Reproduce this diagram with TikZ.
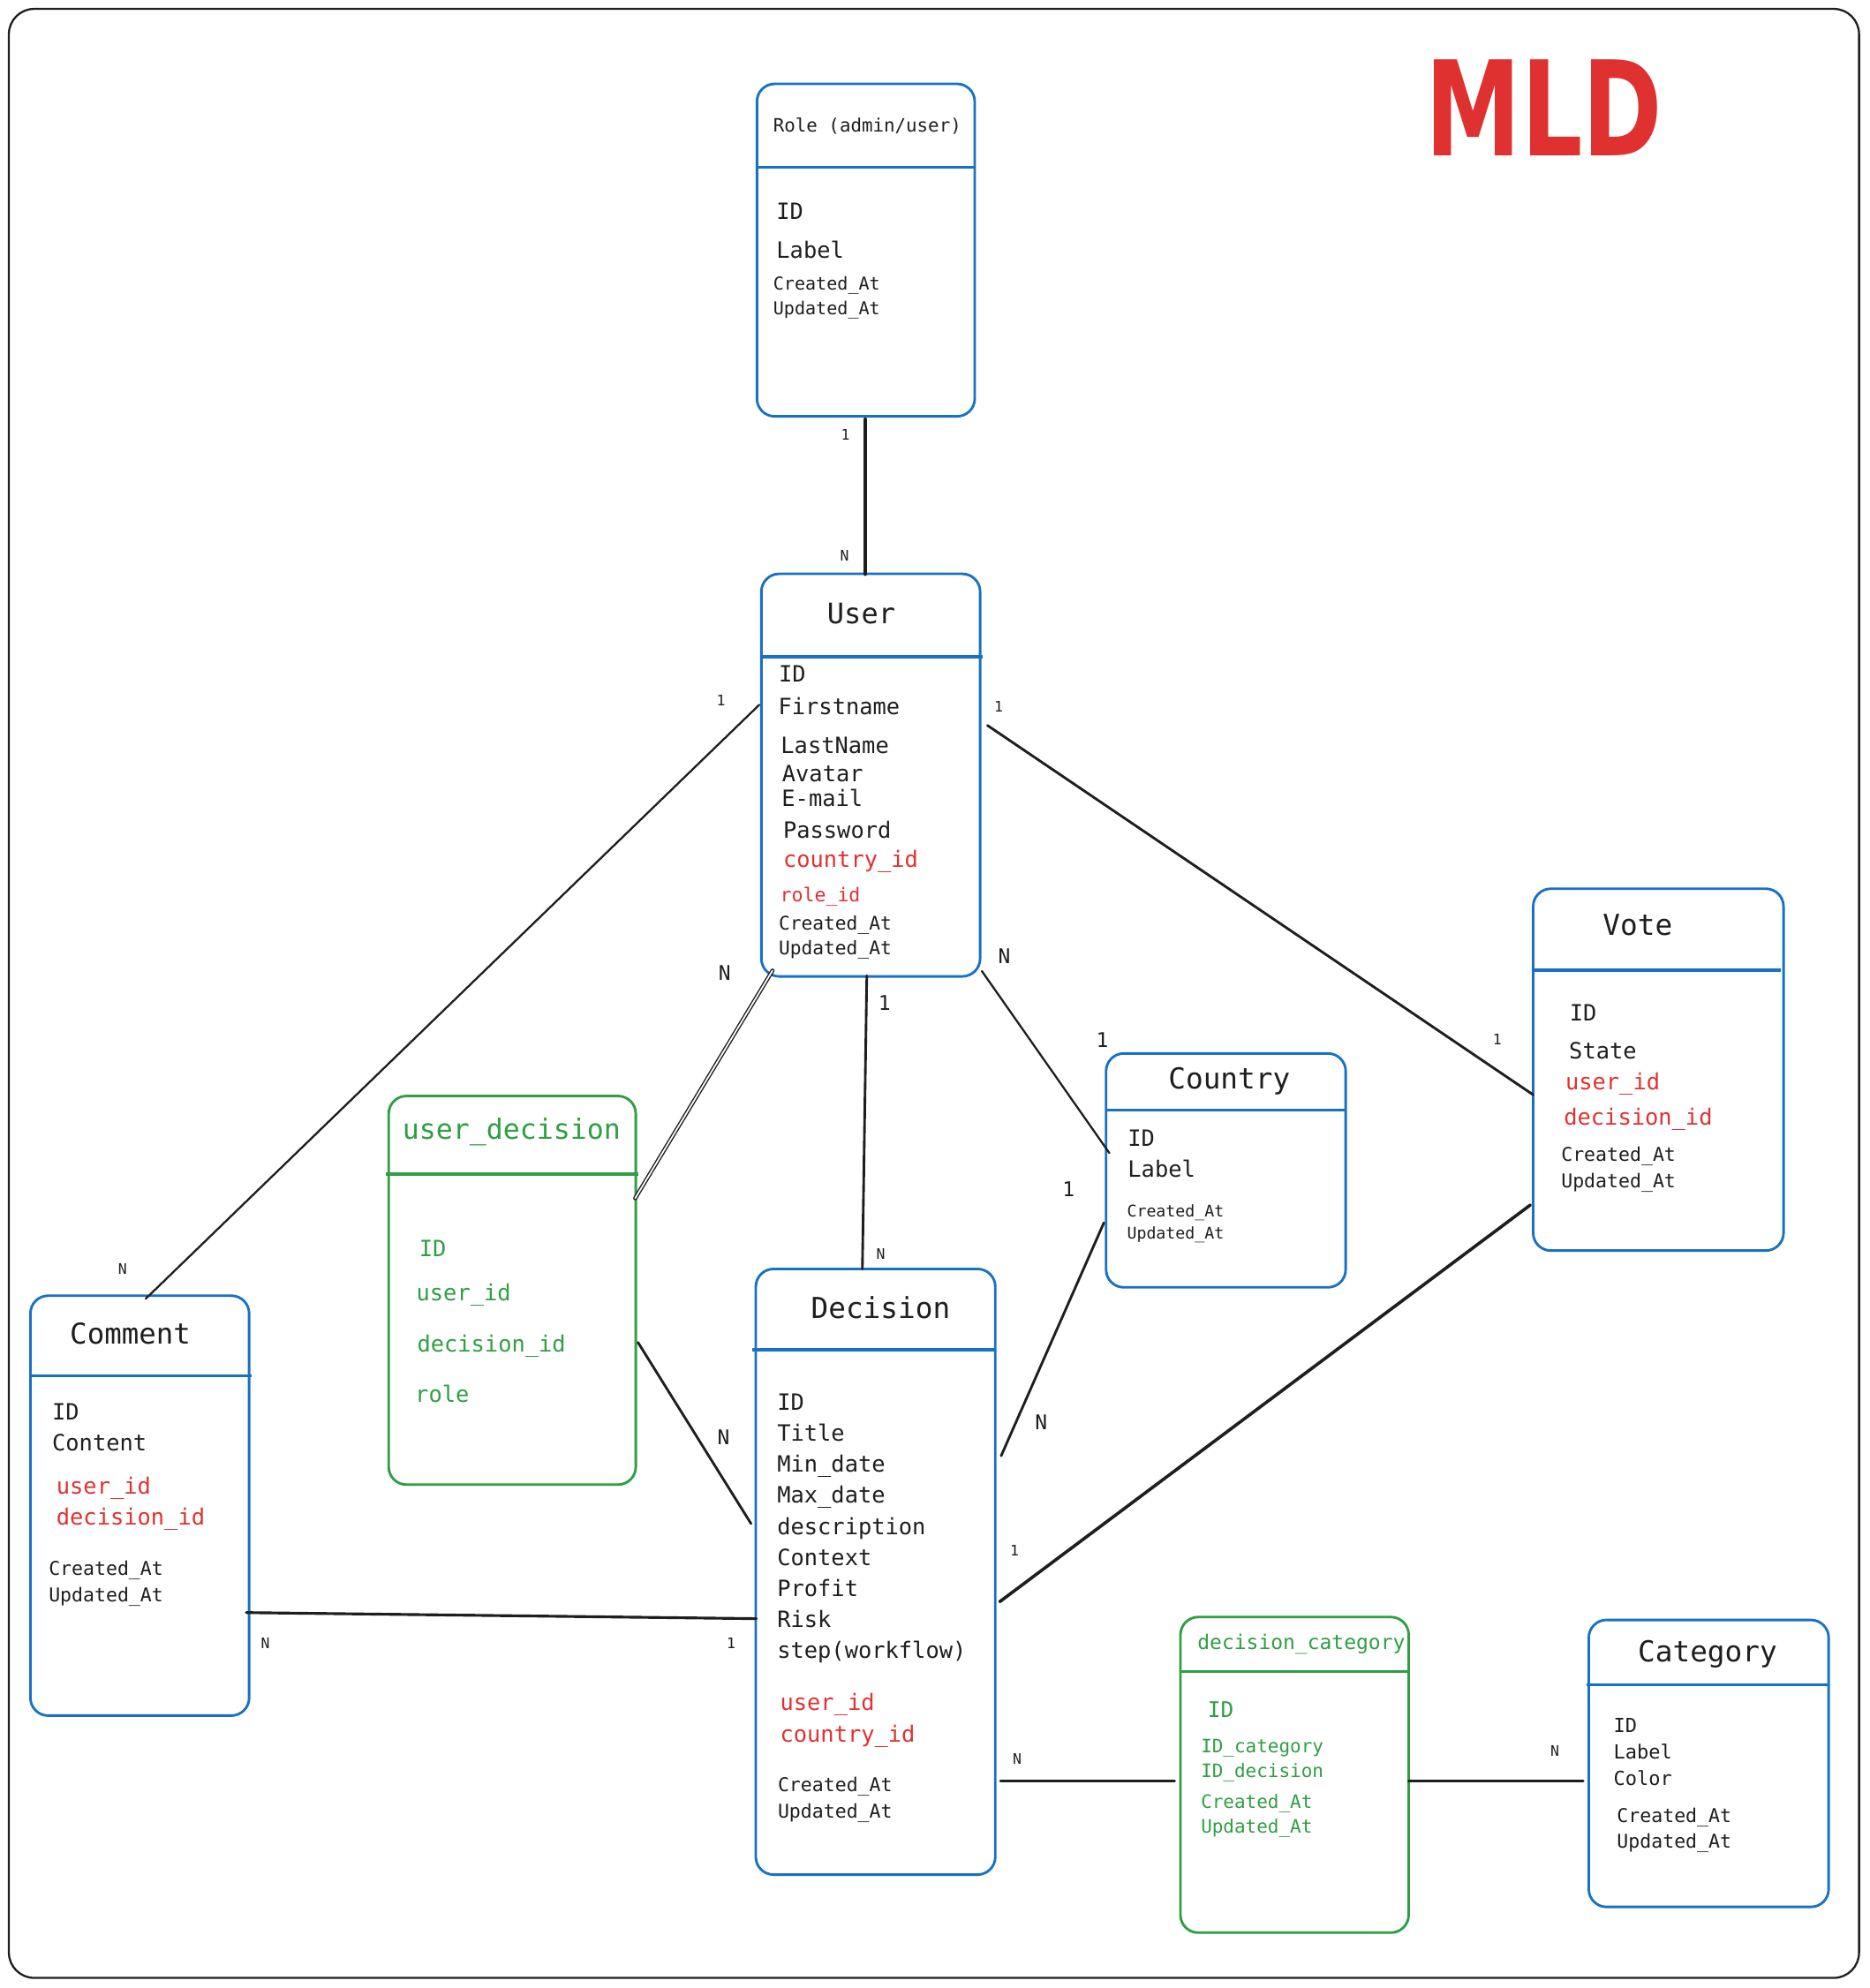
\documentclass[tikz,border=0pt]{standalone}
\usepackage{fontspec}
\setmainfont{DejaVu Sans Mono}
\newfontfamily\mldfont{DejaVu Sans}
\definecolor{eblue}{HTML}{1971C2}
\definecolor{egreen}{HTML}{2F9E44}
\definecolor{ered}{HTML}{E03131}
\definecolor{ink}{HTML}{1E1E1E}
\begin{document}
\begin{tikzpicture}[x=1pt,y=-1pt,
  ent/.style={rectangle, draw=eblue, line width=2pt, rounded corners=14pt, inner sep=0pt, outer sep=0pt, anchor=north west},
  gent/.style={ent, draw=egreen},
  hdrB/.style={draw=eblue, line width=2.4pt},
  hdrG/.style={draw=egreen, line width=2.4pt},
  tx/.style={anchor=base west, inner sep=0pt, text=ink},
  ttl/.style={tx, font=\fontsize{22.8}{26}\selectfont},
  fld/.style={tx, font=\fontsize{17.7}{20}\selectfont},
  tsm/.style={tx, font=\fontsize{15}{17}\selectfont},
  fk/.style={text=ered},
  gr/.style={text=egreen},
  lbS/.style={inner sep=0pt, text=ink, font=\fontsize{11.5}{13}\selectfont},
  lbB/.style={inner sep=0pt, text=ink, font=\fontsize{16}{18}\selectfont},
  con/.style={draw=ink, line width=2pt, line cap=round}
]
\useasboundingbox (0,0) rectangle (1475,1569);
\fill[white] (0,0) rectangle (1475,1569);
% frame
\draw[ink, line width=1.6pt, rounded corners=20pt] (7,7) rectangle (1467,1561);

% title
\node[anchor=base west, inner sep=0pt, text=ered, font=\mldfont\bfseries\fontsize{104}{104}\selectfont, xscale=0.73] (mld) at (1125,123) {MLD};

% ---------- entity boxes ----------
\node[ent, minimum width=171.9pt, minimum height=262.4pt] (role) at (597.3,66.2) {};
\node[ent, minimum width=172.6pt, minimum height=317.7pt] (user) at (600.8,452.9) {};
\node[ent, minimum width=172.6pt, minimum height=331.4pt] (comment) at (24,1022.6) {};
\node[gent, minimum width=195pt, minimum height=306.7pt] (udec) at (306.7,865) {};
\node[ent, minimum width=189pt, minimum height=478pt] (decision) at (596.4,1001.5) {};
\node[ent, minimum width=189.1pt, minimum height=184.6pt] (country) at (872.8,831.4) {};
\node[ent, minimum width=197.6pt, minimum height=285.6pt] (vote) at (1209.8,701.4) {};
\node[gent, minimum width=180.1pt, minimum height=249.1pt] (dcat) at (931.5,1276.2) {};
\node[ent, minimum width=189.3pt, minimum height=226.5pt] (category) at (1253.7,1278.5) {};

% header separators
\draw[hdrB] ([yshift=-65.7pt]role.north west) -- ([yshift=-65.7pt]role.north east);
\draw[hdrB] ([yshift=-65.5pt]user.north west) -- ([yshift=-65.5pt,xshift=2pt]user.north east);
\draw[hdrB] ([yshift=-63.4pt]comment.north west) -- ([yshift=-63.4pt,xshift=2pt]comment.north east);
\draw[hdrG] ([yshift=-61.7pt,xshift=-2pt]udec.north west) -- ([yshift=-61.7pt,xshift=2pt]udec.north east);
\draw[hdrB] ([yshift=-63.7pt,xshift=-3pt]decision.north west) -- ([yshift=-63.7pt]decision.north east);
\draw[hdrB] ([yshift=-44.8pt]country.north west) -- ([yshift=-44.8pt]country.north east);
\draw[hdrB] ([yshift=-64.3pt]vote.north west) -- ([yshift=-64.3pt,xshift=-2pt]vote.north east);
\draw[hdrG] ([yshift=-42.9pt]dcat.north west) -- ([yshift=-42.9pt]dcat.north east);
\draw[hdrB] ([yshift=-51.1pt,xshift=-2pt]category.north west) -- ([yshift=-51.1pt]category.north east);

% ---------- Role ----------
\node[tx, font=\fontsize{14.5}{17}\selectfont] (roleT) at (610,104) {Role (admin/user)};
\node[fld] (roleF1) at (612.5,172.8) {ID};
\node[fld] (roleF2) at (612.5,204) {Label};
\node[tx, font=\fontsize{14}{16}\selectfont] (roleF3) at (610,229) {Created\_At};
\node[tx, font=\fontsize{14}{16}\selectfont] (roleF4) at (610,248.6) {Updated\_At};

% ---------- User ----------
\node[ttl, font=\fontsize{22.3}{26}\selectfont] (userT) at (652.6,492.4) {User};
\node[fld] (userF1) at (614.3,538.3) {ID};
\node[fld] (userF2) at (614,563.9) {Firstname};
\node[fld] (userF3) at (616,594.5) {LastName};
\node[fld] (userF4) at (617,616.6) {Avatar};
\node[fld] (userF5) at (616.7,636.4) {E-mail};
\node[fld] (userF6) at (617.8,661.4) {Password};
\node[fld, fk] (userF7) at (617.8,684.7) {country\_id};
\node[tsm, fk] (userF8) at (615.5,711.4) {role\_id};
\node[tsm, font=\fontsize{14.8}{17}\selectfont] (userF9) at (614.3,734) {Created\_At};
\node[tsm, font=\fontsize{14.8}{17}\selectfont] (userF10) at (614.3,753.7) {Updated\_At};

% ---------- Comment ----------
\node[ttl, font=\fontsize{22.6}{26}\selectfont] (commentT) at (55,1060.7) {Comment};
\node[fld] (commentF1) at (41,1120.7) {ID};
\node[fld] (commentF2) at (41,1145) {Content};
\node[fld, fk] (commentF3) at (44.3,1179.3) {user\_id};
\node[fld, fk] (commentF4) at (44.3,1203.4) {decision\_id};
\node[tsm] (commentF5) at (38.3,1243.4) {Created\_At};
\node[tsm] (commentF6) at (38.3,1264) {Updated\_At};

% ---------- user_decision ----------
\node[ttl, gr, font=\fontsize{22}{26}\selectfont] (udecT) at (317.4,899.3) {user\_decision};
\node[fld, gr] (udecF1) at (330.7,991.6) {ID};
\node[fld, gr] (udecF2) at (328.4,1026.7) {user\_id};
\node[fld, gr] (udecF3) at (329,1066.7) {decision\_id};
\node[fld, gr] (udecF4) at (327.4,1106.7) {role};

% ---------- Decision ----------
\node[ttl] (decisionT) at (639.8,1040.8) {Decision};
\node[fld] (decF1) at (613.1,1112.7) {ID};
\node[fld] (decF2) at (613.1,1137.2) {Title};
\node[fld] (decF3) at (613.1,1161.6) {Min\_date};
\node[fld] (decF4) at (613.1,1186.4) {Max\_date};
\node[fld] (decF5) at (613.1,1210.9) {description};
\node[fld] (decF6) at (613.1,1235.3) {Context};
\node[fld] (decF7) at (613.1,1260.2) {Profit};
\node[fld] (decF8) at (613.1,1284.2) {Risk};
\node[fld] (decF9) at (613.1,1308.7) {step(workflow)};
\node[fld, fk] (decF10) at (615.4,1349.9) {user\_id};
\node[fld, fk] (decF11) at (615.4,1374.7) {country\_id};
\node[tsm] (decF12) at (613.6,1414.2) {Created\_At};
\node[tsm] (decF13) at (613.6,1435) {Updated\_At};

% ---------- Country ----------
\node[ttl] (countryT) at (921.8,859.3) {Country};
\node[fld] (countryF1) at (889.8,904.6) {ID};
\node[fld] (countryF2) at (889.8,928.9) {Label};
\node[tx, font=\fontsize{12.7}{15}\selectfont] (countryF3) at (889.2,960.3) {Created\_At};
\node[tx, font=\fontsize{12.7}{15}\selectfont] (countryF4) at (889.2,977.7) {Updated\_At};

% ---------- Vote ----------
\node[ttl] (voteT) at (1264.6,738.5) {Vote};
\node[fld] (voteF1) at (1238.5,805.9) {ID};
\node[fld] (voteF2) at (1238,835.6) {State};
\node[fld, fk] (voteF3) at (1235.1,860) {user\_id};
\node[fld, fk] (voteF4) at (1233.9,887.9) {decision\_id};
\node[tsm] (voteF5) at (1231.8,916.2) {Created\_At};
\node[tsm] (voteF6) at (1231.8,937.1) {Updated\_At};

% ---------- decision_category ----------
\node[tx, gr, font=\fontsize{16}{18}\selectfont] (dcatT) at (944.8,1301.7) {decision\_category};
\node[tx, gr, font=\fontsize{17}{20}\selectfont] (dcatF1) at (952.8,1355.6) {ID};
\node[tx, gr, font=\fontsize{14.6}{17}\selectfont] (dcatF2) at (947.5,1383) {ID\_category};
\node[tx, gr, font=\fontsize{14.6}{17}\selectfont] (dcatF3) at (947.5,1402.7) {ID\_decision};
\node[tx, gr, font=\fontsize{14.6}{17}\selectfont] (dcatF4) at (947.5,1427.1) {Created\_At};
\node[tx, gr, font=\fontsize{14.6}{17}\selectfont] (dcatF5) at (947.5,1446.9) {Updated\_At};

% ---------- Category ----------
\node[ttl] (categoryT) at (1292.3,1311.7) {Category};
\node[tx, font=\fontsize{15.3}{18}\selectfont] (catF1) at (1273.2,1367.4) {ID};
\node[tx, font=\fontsize{15.3}{18}\selectfont] (catF2) at (1273.2,1388.3) {Label};
\node[tx, font=\fontsize{15.3}{18}\selectfont] (catF3) at (1273.2,1409.2) {Color};
\node[tsm] (catF4) at (1275.8,1438.3) {Created\_At};
\node[tsm] (catF5) at (1275.8,1458.5) {Updated\_At};

% ---------- connector end points ----------
\coordinate (ruA) at (682.8,331);   \coordinate (ruB) at (682.8,453);
\coordinate (ucA) at (599.2,556.2); \coordinate (ucB) at (115,1025);
\coordinate (uvA) at (779.2,572.5); \coordinate (uvB) at (1209.8,864);
\coordinate (uudA) at (609.6,766);  \coordinate (uudB) at (501.2,945.7);
\coordinate (udA) at (684,770);     \coordinate (udB) at (680.5,1001.5);
\coordinate (ucoA) at (774.8,766.4);\coordinate (ucoB) at (875.4,910);
\coordinate (codA) at (871.1,965);  \coordinate (codB) at (790,1149);
\coordinate (vdA) at (1207.6,951);  \coordinate (vdB) at (788.9,1264.1);
\coordinate (uddA) at (503.4,1059.4);\coordinate (uddB) at (592.7,1202.6);
\coordinate (cmdA) at (194.4,1272.7);\coordinate (cmdB) at (596.9,1277.5);
\coordinate (ddcA) at (789.4,1405.5);\coordinate (ddcB) at (927,1405.5);
\coordinate (dccA) at (1111.6,1405.5);\coordinate (dccB) at (1249.2,1405.5);

% ---------- connectors ----------
\draw[con, line width=3.2pt] (ruA) -- (ruB);
\draw[con, line width=1.6pt] (ucA) -- (ucB);
\draw[con] (uvA) -- (uvB);
\draw[con, line width=1pt, double=white, double distance=1.2pt] (uudA) -- (uudB);
\draw[con] (udA) -- (udB);
\draw[con, line width=1.6pt] (ucoA) -- (ucoB);
\draw[con] (codA) -- (codB);
\draw[con, line width=2.5pt] (vdA) -- (vdB);
\draw[con] (uddA) -- (uddB);
\draw[con, line width=2.2pt] (cmdA) -- (cmdB);
\draw[con, line width=1.8pt] (ddcA) -- (ddcB);
\draw[con, line width=2.4pt] (dccA) -- (dccB);

% ---------- cardinalities ----------
\node[lbS] (k1) at (667.2,343.3) {1};
\node[lbS] (k2) at (666.5,438.5) {N};
\node[lbS] (k3) at (569,552.7) {1};
\node[lbS] (k4) at (788,557.4) {1};
\node[lbS] (k5) at (96.7,1001.7) {N};
\node[lbS] (k6) at (1181.5,820.5) {1};
\node[lbB] (k7) at (571.8,767.6) {N};
\node[lbB] (k8) at (697.9,791.5) {1};
\node[lbS] (k9) at (695,989.5) {N};
\node[lbB] (k10) at (792.6,754.3) {N};
\node[lbB] (k11) at (869.9,821) {1};
\node[lbB] (k12) at (843.3,938.7) {1};
\node[lbB] (k13) at (821.7,1122.8) {N};
\node[lbB] (k14) at (571,1134) {N};
\node[lbS] (k15) at (800.5,1224) {1};
\node[lbS] (k16) at (209.4,1296.6) {N};
\node[lbS] (k17) at (577,1297) {1};
\node[lbS] (k18) at (802.7,1388.3) {N};
\node[lbS] (k19) at (1227,1381.8) {N};
\end{tikzpicture}
\end{document}
